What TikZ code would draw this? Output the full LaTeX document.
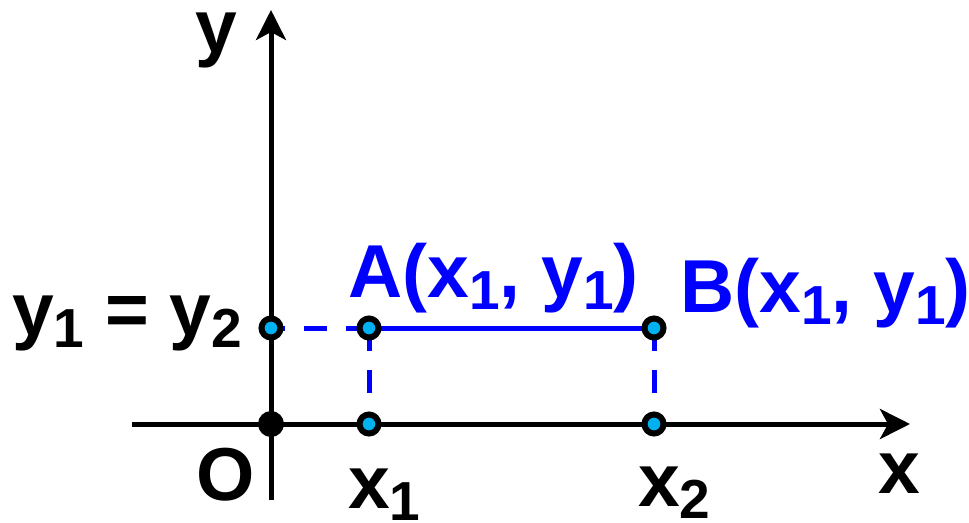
\documentclass[tikz,border=0pt]{standalone}
\usepackage{fontspec}
\setmainfont{Liberation Sans}
\usepackage{tikz}
\usetikzlibrary{arrows.meta}
\definecolor{segblue}{HTML}{0000FF}
\definecolor{ptfill}{HTML}{00B0F0}
\newcommand{\idx}[1]{\raisebox{-12pt}{\fontsize{55}{55}\selectfont #1}}

\begin{document}
\begin{tikzpicture}[
  x=1pt,y=-1pt,
  lbl/.style={inner sep=0pt,font=\fontsize{75}{80}\selectfont\bfseries},
  axis/.style={line width=5pt,-{Stealth[length=30pt,width=30pt,inset=8pt]}},
  guide/.style={segblue,line width=5pt,dash pattern=on 23pt off 19pt},
  pt/.style={circle,draw=black,line width=6pt,fill=ptfill,minimum size=19pt,inner sep=0pt},
  org/.style={circle,fill=black,minimum size=26pt,inner sep=0pt}]
  \useasboundingbox (0,0) rectangle (969,522);
  % axes
  \coordinate (xl) at (132,424);
  \coordinate (xr) at (910,424);
  \coordinate (yb) at (271,500);
  \coordinate (yt) at (271,10);
  \draw[axis] (xl) -- (xr);
  \draw[axis] (yb) -- (yt);
  % points
  \coordinate (o) at (271,424);
  \coordinate (py) at (271,328);
  \coordinate (pa) at (369,328);
  \coordinate (pb) at (654,328);
  \coordinate (px1) at (369,424);
  \coordinate (px2) at (654,424);
  \draw[guide] (pa) -- (py);
  \draw[guide] (pa) -- (px1);
  \draw[guide] (pb) -- (px2);
  \draw[segblue,line width=5pt] (pa) -- (pb);
  \node[org] (no) at (o) {};
  \node[pt] (ny) at (py) {};
  \node[pt] (na) at (pa) {};
  \node[pt] (nb) at (pb) {};
  \node[pt] (nx1) at (px1) {};
  \node[pt] (nx2) at (px2) {};
  % labels
  \node[lbl,anchor=base west] (ylab) at (195,52) {y};
  \node[lbl,anchor=base west] (xlab) at (878,493) {x};
  \node[lbl,anchor=base west] (olab) at (196,500) {O};
  \node[lbl,anchor=base west] (x1lab) at (348,508) {x\idx{1}};
  \node[lbl,anchor=base west] (x2lab) at (638,506) {x\idx{2}};
  \node[lbl,anchor=base west] (eqlab) at (12,335) {y\idx{1} = y\idx{2}};
  \node[lbl,anchor=base west,text=segblue] (alab) at (348,297) {A(x\idx{1}, y\idx{1})};
  \node[lbl,anchor=base west,text=segblue] (blab) at (680,312) {B(x\idx{1}, y\idx{1})};
\end{tikzpicture}
\end{document}
